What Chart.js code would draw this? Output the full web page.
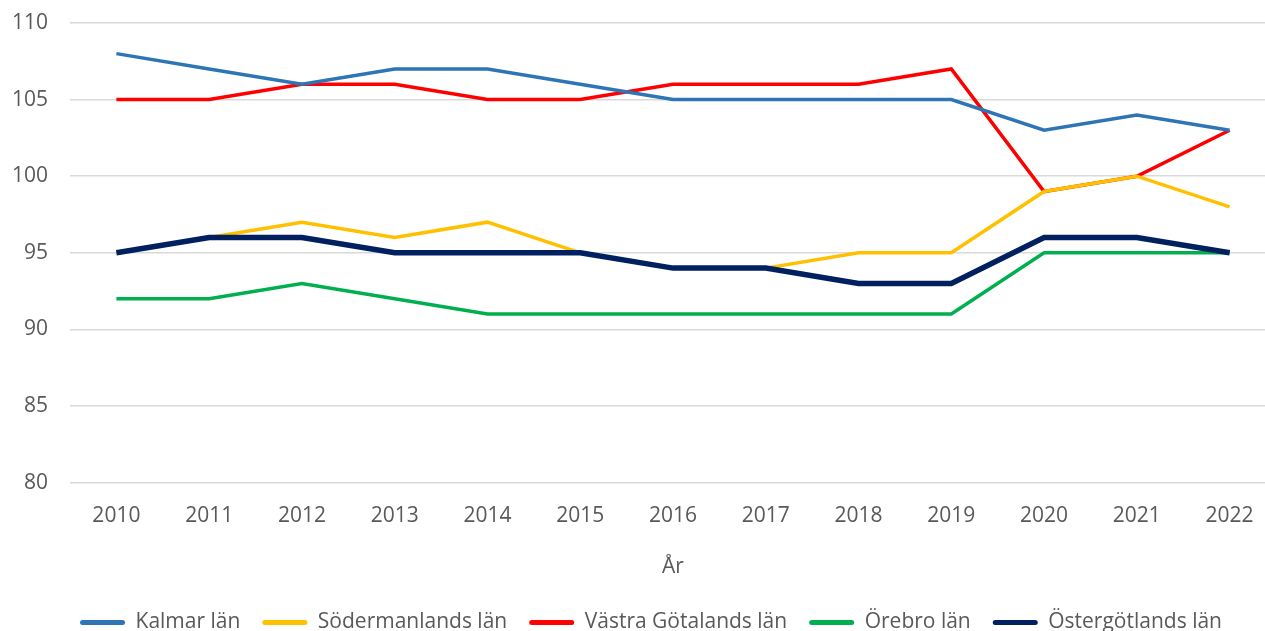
<!DOCTYPE html>
<html>
<head>
<meta charset="utf-8">
<script src="https://cdn.jsdelivr.net/npm/chart.js@4/dist/chart.umd.min.js"></script>
<style>
  html, body { margin: 0; padding: 0; background: #fff; overflow: hidden; }
  #wrap { width: 1316px; height: 631px; }
</style>
</head>
<body>
<div id="wrap"><canvas id="myChart"></canvas></div>
<script>
var years = ['2010', '2011', '2012', '2013', '2014', '2015', '2016', '2017', '2018', '2019', '2020', '2021', '2022'];
var kalmar = [108, 107, 106, 107, 107, 106, 105, 105, 105, 105, 103, 104, 103];
var sodermanland = [95, 96, 97, 96, 97, 95, 94, 94, 95, 95, 99, 100, 98];
var vastraGotaland = [105, 105, 106, 106, 105, 105, 106, 106, 106, 107, 99, 100, 103];
var orebro = [92, 92, 93, 92, 91, 91, 91, 91, 91, 91, 95, 95, 95];
var ostergotland = [95, 96, 96, 95, 95, 95, 94, 94, 93, 93, 96, 96, 95];
var yTicks = [80, 85, 90, 95, 100, 105, 110];

var textColor = '#595959';
var fontName = 'Open Sans';

function serie(label, data, color, width, order) {
  return {
    label: label,
    data: data,
    borderColor: color,
    backgroundColor: color,
    borderWidth: width,
    pointRadius: 0,
    tension: 0,
    order: order
  };
}

// legenden ligger lite till höger om mitten i originalet
var shiftLegend = {
  id: 'shiftLegend',
  afterLayout: function(chart) {
    chart.legend.left += 8;
    chart.legend.right += 8;
  }
};

var ctx = document.getElementById('myChart').getContext('2d');
var myChart = new Chart(ctx, {
  type: 'line',
  data: {
    labels: years,
    datasets: [
      serie('Kalmar län', kalmar, '#2e75b6', 3.5, 1),
      serie('Södermanlands län', sodermanland, '#ffc000', 3.5, 1),
      serie('Västra Götalands län', vastraGotaland, '#ff0000', 3.5, 1),
      serie('Örebro län', orebro, '#00b050', 3.5, 1),
      serie('Östergötlands län', ostergotland, '#002060', 5.5, 0)
    ]
  },
  plugins: [shiftLegend],
  options: {
    responsive: true,
    maintainAspectRatio: false,
    animation: false,
    layout: { padding: { left: 10, right: 40, top: 23, bottom: -12 } },
    plugins: {
      legend: {
        position: 'bottom',
        labels: {
          color: textColor,
          font: { family: fontName, size: 21 },
          boxWidth: 45,
          boxHeight: 5,
          padding: 22,
          generateLabels: function(chart) {
            return chart.data.datasets.map(function(ds, i) {
              return {
                text: ds.label,
                fillStyle: ds.borderColor,
                strokeStyle: ds.borderColor,
                lineWidth: 0,
                borderRadius: 2.5,
                fontColor: textColor,
                hidden: false,
                datasetIndex: i
              };
            });
          }
        }
      },
      tooltip: { enabled: false }
    },
    scales: {
      x: {
        offset: true,
        grid: { display: false },
        border: { display: false },
        ticks: { color: textColor, font: { family: fontName, size: 21 }, padding: 13 },
        title: {
          display: true,
          text: 'År',
          color: textColor,
          font: { family: fontName, size: 21 },
          padding: { top: 13, bottom: 10 }
        }
      },
      y: {
        min: 80,
        max: 110,
        afterBuildTicks: function(axis) {
          axis.ticks = yTicks.map(function(v) { return { value: v }; });
        },
        afterFit: function(axis) {
          axis.width = 60;
          axis.paddingTop = 0;
        },
        grid: { color: '#d9d9d9', lineWidth: 1.5, drawTicks: false },
        border: { display: false },
        ticks: { color: textColor, font: { family: fontName, size: 21 }, padding: 22 }
      }
    }
  }
});
</script>
</body>
</html>
